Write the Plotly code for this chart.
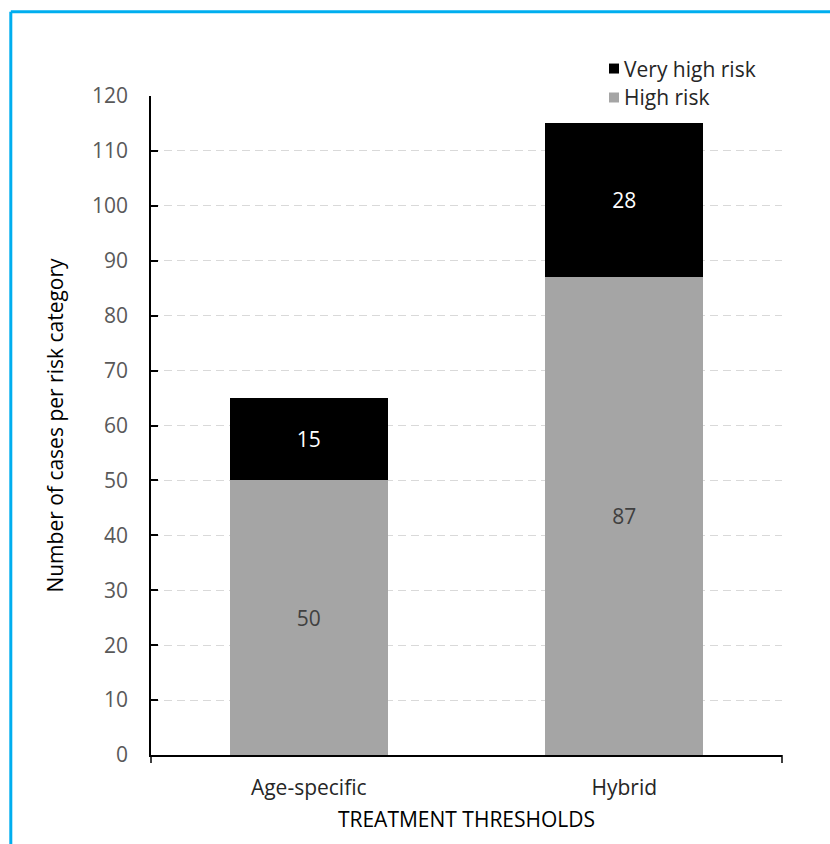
import plotly.graph_objects as go

# Chart data
categories = ["Age-specific", "Hybrid"]
high_risk = [50, 87]
very_high_risk = [15, 28]
y_ticks = list(range(0, 121, 10))
series_names = ["Very high risk", "High risk"]
series_colors = ["#000000", "#a5a5a5"]

W, H = 830, 844
L, R, T, B = 151, 48, 95.5, 88.5
PW, PH = W - L - R, H - T - B

FONT = "Open Sans"
FS = 21
TICK_GREY = "#595959"
TEXT_DARK = "#262626"

fig = go.Figure()
fig.add_trace(go.Bar(
    x=categories, y=high_risk, name=series_names[1],
    marker=dict(color=series_colors[1], line=dict(width=0)),
    text=[str(v) for v in high_risk], textposition="inside",
    insidetextanchor="middle", constraintext="none",
    textfont=dict(family=FONT, size=FS, color="#404040"),
    width=0.5,
))
fig.add_trace(go.Bar(
    x=categories, y=very_high_risk, name=series_names[0],
    marker=dict(color=series_colors[0], line=dict(width=0)),
    text=[str(v) for v in very_high_risk], textposition="inside",
    insidetextanchor="middle", constraintext="none",
    textfont=dict(family=FONT, size=FS, color="#ffffff"),
    width=0.5,
))


def px_x(px):
    return (px - L) / PW


def px_y(py):
    return 1 - (py - T) / PH


shapes = [
    # blue frame (top and left edges)
    dict(type="line", xref="paper", yref="paper",
         x0=px_x(10.8), x1=px_x(840), y0=px_y(11), y1=px_y(11),
         line=dict(color="#00aeef", width=3)),
    dict(type="line", xref="paper", yref="paper",
         x0=px_x(10.8), x1=px_x(10.8), y0=px_y(11), y1=px_y(860),
         line=dict(color="#00aeef", width=3)),
    # category boundary ticks at the ends of the x axis
    dict(type="line", xref="paper", yref="paper",
         x0=0, x1=0, y0=0, y1=px_y(T + PH + 8),
         line=dict(color="#000000", width=1.5)),
    dict(type="line", xref="paper", yref="paper",
         x0=1, x1=1, y0=0, y1=px_y(T + PH + 8),
         line=dict(color="#000000", width=1.5)),
]

# Legend: small square swatches with labels beside them
annotations = []
legend_rows = [68, 97]
for name, color, yc in zip(series_names, series_colors, legend_rows):
    shapes.append(dict(
        type="rect", xref="paper", yref="paper",
        x0=px_x(609), x1=px_x(619), y0=px_y(yc - 5), y1=px_y(yc + 5),
        fillcolor=color, line=dict(width=0),
    ))
    annotations.append(dict(
        text=name, xref="paper", yref="paper",
        x=px_x(622), y=px_y(yc), xanchor="left", yanchor="middle",
        showarrow=False, font=dict(family=FONT, size=FS, color=TEXT_DARK),
    ))

fig.update_layout(
    width=W, height=H,
    margin=dict(l=L, r=R, t=T, b=B, pad=0),
    barmode="stack",
    plot_bgcolor="#ffffff", paper_bgcolor="#ffffff",
    font=dict(family=FONT, size=FS, color=TICK_GREY),
    showlegend=False,
    xaxis=dict(
        showline=True, linecolor="#000000", linewidth=1.5,
        ticks="", showgrid=False,
        ticklabelstandoff=13,
        tickfont=dict(family=FONT, size=FS, color=TEXT_DARK),
        title=dict(text="TREATMENT THRESHOLDS", standoff=12,
                   font=dict(family=FONT, size=FS, color="#000000")),
        range=[-0.5, 1.5],
    ),
    yaxis=dict(
        range=[0, 120], tickvals=y_ticks,
        showline=True, linecolor="#000000", linewidth=1.5,
        ticks="inside", ticklen=7, tickwidth=1.5, tickcolor="#000000",
        ticklabelstandoff=17,
        showgrid=True, gridcolor="#d9d9d9", gridwidth=1, griddash="8px,5px",
        zeroline=False,
        tickfont=dict(family=FONT, size=FS, color=TICK_GREY),
        title=dict(text="Number of cases per risk category", standoff=23,
                   font=dict(family=FONT, size=FS, color="#000000")),
    ),
    shapes=shapes,
    annotations=annotations,
)

fig.write_html("out.html")
